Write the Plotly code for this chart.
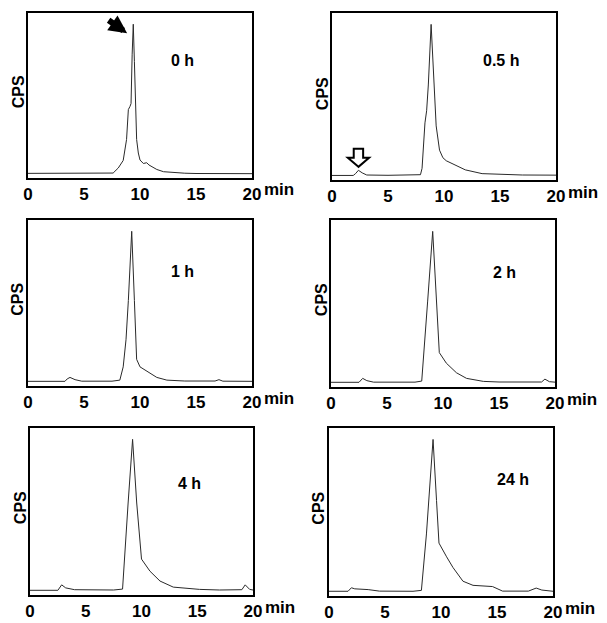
import plotly.graph_objects as go
from plotly.subplots import make_subplots

# retention time (min) and normalised counts for each sampling time
labels = ["0 h", "0.5 h", "1 h", "2 h", "4 h", "24 h"]

x_0h = [0, 2.0, 2.3, 2.6, 5, 7.0, 7.6, 8.06, 8.5, 8.8, 8.96, 9.1, 9.2, 9.3, 9.4, 9.5, 9.6, 9.7, 9.85, 10.0, 10.3, 10.6, 10.8, 11.0, 11.5, 12.1, 13.0, 14.0, 15.0, 20]
y_0h = [0.004, 0.004, 0.008, 0.004, 0.003, 0.004, 0.006, 0.04, 0.09, 0.23, 0.43, 0.45, 0.47, 0.8, 1.0, 0.75, 0.45, 0.23, 0.14, 0.093, 0.07, 0.075, 0.06, 0.05, 0.03, 0.015, 0.008, 0.005, 0.003, 0.002]

x_05h = [0, 1.9, 2.1, 2.36, 2.7, 3.1, 5, 7.0, 7.9, 8.04, 8.3, 8.45, 8.6, 8.85, 9.05, 9.3, 9.6, 9.9, 10.2, 10.8, 11.3, 11.9, 13.4, 14.9, 17, 20]
y_05h = [0.003, 0.003, 0.015, 0.037, 0.02, 0.006, 0.004, 0.004, 0.008, 0.05, 0.35, 0.43, 0.6, 1.0, 0.72, 0.33, 0.17, 0.12, 0.1, 0.08, 0.06, 0.04, 0.015, 0.01, 0.006, 0.005]

x_1h = [0, 3.3, 3.5, 3.75, 4.2, 4.8, 7.5, 8.2, 8.5, 8.75, 8.96, 9.26, 9.5, 9.7, 10.0, 10.6, 11.0, 11.5, 12.4, 14, 16.7, 17.05, 17.4, 20]
y_1h = [0.004, 0.004, 0.02, 0.03, 0.015, 0.005, 0.005, 0.012, 0.10, 0.28, 0.54, 1.0, 0.54, 0.15, 0.1, 0.07, 0.05, 0.03, 0.012, 0.006, 0.006, 0.015, 0.005, 0.004]

x_2h = [0, 2.5, 2.83, 3.2, 3.8, 7.5, 8.1, 8.5, 8.63, 9.08, 9.44, 9.67, 10.3, 11.2, 12.1, 13.6, 15, 18.8, 19.1, 19.5, 20]
y_2h = [0.004, 0.004, 0.03, 0.015, 0.005, 0.005, 0.012, 0.37, 0.54, 1.0, 0.54, 0.2, 0.13, 0.067, 0.03, 0.01, 0.006, 0.006, 0.025, 0.008, 0.005]

x_4h = [0, 2.5, 2.84, 3.2, 4.0, 7.5, 8.3, 8.6, 8.8, 9.2, 9.57, 10.0, 10.76, 11.66, 12.85, 15.2, 17, 19.0, 19.3, 19.7, 20]
y_4h = [0.004, 0.004, 0.04, 0.02, 0.008, 0.006, 0.012, 0.37, 0.58, 1.0, 0.58, 0.21, 0.13, 0.065, 0.025, 0.01, 0.006, 0.008, 0.04, 0.01, 0.006]

x_24h = [0, 1.7, 2.0, 2.3, 3.5, 4.5, 7.5, 8.25, 8.7, 9.0, 9.29, 9.6, 9.82, 10.5, 11.07, 11.96, 12.86, 14.6, 15.5, 17.8, 18.5, 19.0, 20]
y_24h = [0.004, 0.004, 0.027, 0.02, 0.015, 0.005, 0.004, 0.01, 0.38, 0.72, 1.0, 0.6, 0.32, 0.23, 0.16, 0.07, 0.043, 0.035, 0.005, 0.005, 0.025, 0.012, 0.004]

series = [(x_0h, y_0h), (x_05h, y_05h), (x_1h, y_1h), (x_2h, y_2h), (x_4h, y_4h), (x_24h, y_24h)]
label_pos = [(13.75, 0.76), (15.1, 0.76), (13.75, 0.73), (15.5, 0.73), (14.3, 0.71), (16.4, 0.74)]
x_ticks = [0, 5, 10, 15, 20]

# the page body keeps its default 8px margin, so the figure is 8px smaller
PAD = 8
W, H = 607 - PAD, 623 - PAD
font = dict(family="Liberation Sans, Arial, sans-serif", color="black")

fig = make_subplots(rows=3, cols=2)

# panel frames in window pixels: left, right, top, bottom
boxes = [(28, 252, 13, 178), (332, 556, 13, 180),
         (28, 252, 220, 386), (331, 555, 220, 387),
         (30, 253, 428, 595), (329, 553, 428, 596)]

for i, ((xs, ys), lab, (lx, ly)) in enumerate(zip(series, labels, label_pos)):
    r, c = i // 2 + 1, i % 2 + 1
    fig.add_trace(go.Scatter(x=xs, y=ys, mode="lines",
                             line=dict(color="#2a2a2a", width=1)), row=r, col=c)
    left, right, top, bottom = [v - PAD for v in boxes[i]]
    n = i + 1
    xa = "xaxis" if n == 1 else f"xaxis{n}"
    ya = "yaxis" if n == 1 else f"yaxis{n}"
    fig.layout[xa].domain = [left / W, right / W]
    fig.layout[ya].domain = [(H - bottom) / H, (H - top) / H]
    xr = "x" if n == 1 else f"x{n}"
    yr = "y" if n == 1 else f"y{n}"
    fig.add_annotation(x=lx, y=ly, xref=xr, yref=yr, text=lab, showarrow=False,
                       font=dict(size=16, weight="bold", **font))
    fig.add_annotation(x=1, y=0, xref=f"{xr} domain", yref=f"{yr} domain", text="min",
                       showarrow=False, xanchor="left", yanchor="middle", xshift=10, yshift=-12,
                       font=dict(size=17, weight="bold", **font))
    fig.add_annotation(x=0, y=0.52, xref=f"{xr} domain", yref=f"{yr} domain", text="CPS",
                       showarrow=False, textangle=-90, xanchor="center", yanchor="middle", xshift=-10,
                       font=dict(size=16, weight="bold", **font))

# filled arrow pointing at the main peak (0 h)
fig.add_annotation(x=8.85, y=0.94, xref="x", yref="y", text="", showarrow=True,
                   ax=-20, ay=-14, arrowhead=2, arrowsize=0.6, arrowwidth=6, arrowcolor="black")

# open block arrow above the early peak (0.5 h), drawn in data units of panel 2
ax0, ay0 = 2.36, 0.06
arrow_path = (f"M {ax0},{ay0} L {ax0 - 0.95},{ay0 + 0.06} L {ax0 - 0.42},{ay0 + 0.06} "
              f"L {ax0 - 0.42},{ay0 + 0.12} L {ax0 + 0.42},{ay0 + 0.12} L {ax0 + 0.42},{ay0 + 0.06} "
              f"L {ax0 + 0.95},{ay0 + 0.06} Z")
fig.add_shape(type="path", path=arrow_path, xref="x2", yref="y2",
              line=dict(color="black", width=2), fillcolor="white")

fig.update_xaxes(range=[0, 20], tickvals=x_ticks, showgrid=False, zeroline=False,
                 showline=True, mirror=True, linecolor="black", linewidth=1.5, ticks="",
                 automargin=False, tickfont=dict(size=17, weight="bold", **font))
fig.update_yaxes(range=[-0.027, 1.075], showticklabels=False, showgrid=False, zeroline=False,
                 showline=True, mirror=True, linecolor="black", linewidth=1.5, ticks="",
                 automargin=False)

fig.update_layout(width=W, height=H, margin=dict(l=0, r=0, t=0, b=0),
                  paper_bgcolor="white", plot_bgcolor="white", showlegend=False)

fig.write_html("out.html")
